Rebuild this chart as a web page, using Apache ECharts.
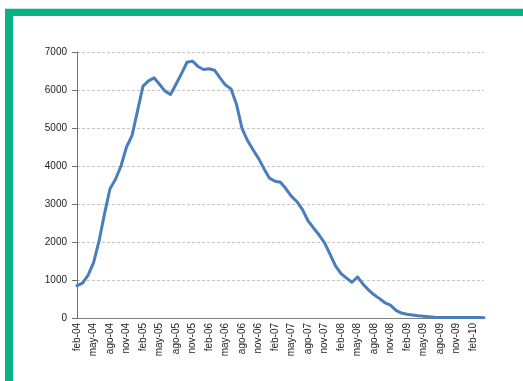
<!DOCTYPE html>
<html>
<head>
<meta charset="utf-8">
<script src="https://cdn.jsdelivr.net/npm/echarts@6/dist/echarts.min.js"></script>
<style>
html,body{margin:0;padding:0;background:#fff;}
#c{width:523px;height:381px;}
</style>
</head>
<body>
<div id="c"></div>
<script>
const monthNames = ['ene','feb','mar','abr','may','jun','jul','ago','sep','oct','nov','dic'];
// feb-04 .. abr-10
const categories = [];
(function(){ let m = 1, y = 4; for (let k = 0; k < 75; k++) { categories.push(monthNames[m] + '-' + String(y).padStart(2,'0')); m++; if (m > 11) { m = 0; y++; } } })();

const values = [
  850, 920, 1120, 1450, 2020, 2740, 3400, 3650, 4000, 4500,
  4800, 5450, 6100, 6240, 6320, 6150, 5970, 5880, 6150, 6430,
  6730, 6760, 6620, 6540, 6560, 6520, 6320, 6130, 6030, 5620,
  4990, 4670, 4430, 4200, 3930, 3680, 3600, 3570, 3400, 3200,
  3060, 2850, 2560, 2370, 2190, 1980, 1680, 1370, 1170, 1050,
  940, 1080, 890, 740, 610, 510, 400, 340, 200, 130,
  100, 80, 60, 45, 30, 20, 15, 12, 10, 10,
  10, 10, 10, 10, 8
];

const yTicks = [0, 1000, 2000, 3000, 4000, 5000, 6000, 7000];

const chart = echarts.init(document.getElementById('c'), null, {renderer: 'canvas'});
chart.setOption({
  animation: false,
  backgroundColor: '#ffffff',
  grid: {left: 77, right: 39, top: 52, bottom: 63, containLabel: false},
  graphic: [
    {type: 'rect', shape: {x: 5, y: 8, width: 518, height: 1}, style: {fill: '#bfe9dc'}, silent: true},
    {type: 'rect', shape: {x: 5, y: 9, width: 518, height: 7}, style: {fill: '#08b285'}, silent: true},
    {type: 'rect', shape: {x: 5, y: 9, width: 8, height: 372}, style: {fill: '#08b285'}, silent: true}
  ],
  xAxis: {
    type: 'category',
    data: categories,
    boundaryGap: false,
    axisLine: {lineStyle: {color: '#7f7f7f', width: 1}},
    axisTick: {show: false},
    axisLabel: {
      interval: 2,
      rotate: 90,
      margin: 5,
      color: '#222',
      fontFamily: 'Liberation Sans, Arial, sans-serif',
      fontSize: 10
    },
    splitLine: {show: false}
  },
  yAxis: {
    type: 'value',
    min: yTicks[0],
    max: yTicks[yTicks.length - 1],
    interval: 1000,
    axisLine: {show: true, lineStyle: {color: '#6f6f6f', width: 1}},
    axisTick: {show: true, length: 5, lineStyle: {color: '#6f6f6f'}},
    axisLabel: {
      margin: 10,
      color: '#222',
      fontFamily: 'Liberation Sans, Arial, sans-serif',
      fontSize: 10,
      formatter: function (v) { return String(v); }
    },
    splitLine: {show: true, lineStyle: {color: '#c4c4c4', type: [3, 2], width: 1}}
  },
  series: [{
    type: 'line',
    data: values,
    showSymbol: false,
    symbol: 'none',
    smooth: false,
    lineStyle: {color: '#4a7ebb', width: 3, join: 'round', cap: 'round'},
    itemStyle: {color: '#4a7ebb'}
  }]
});
</script>
</body>
</html>
